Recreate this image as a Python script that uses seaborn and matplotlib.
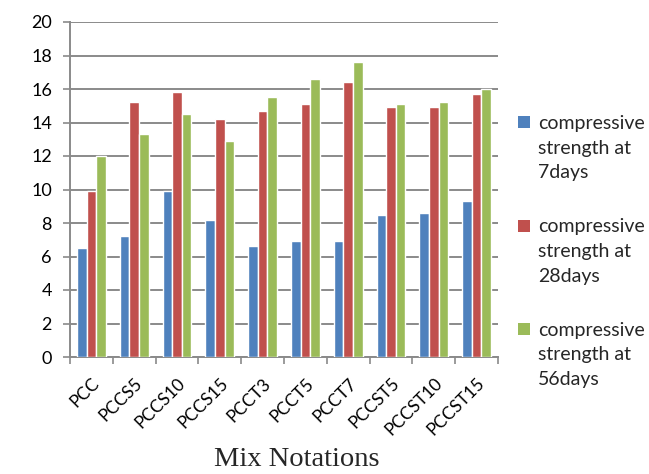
import matplotlib
matplotlib.use("Agg")
import matplotlib.pyplot as plt
import seaborn as sns
import pandas as pd
import numpy as np
from matplotlib.ticker import FixedLocator
from matplotlib.legend_handler import HandlerPatch
from matplotlib.patches import Rectangle

mixes = ["PCC", "PCCS5", "PCCS10", "PCCS15", "PCCT3", "PCCT5", "PCCT7",
         "PCCST5", "PCCST10", "PCCST15"]
strength_7d = [6.5, 7.2, 9.9, 8.15, 6.6, 6.9, 6.9, 8.5, 8.6, 9.3]
strength_28d = [9.9, 15.2, 15.8, 14.2, 14.7, 15.1, 16.4, 14.9, 14.9, 15.7]
strength_56d = [12.0, 13.3, 14.5, 12.9, 15.5, 16.6, 17.6, 15.1, 15.2, 16.0]
series_names = ["compressive\nstrength at\n7days",
                "compressive\nstrength at\n28days",
                "compressive\nstrength at\n56days"]
y_ticks = [0, 2, 4, 6, 8, 10, 12, 14, 16, 18, 20]

df = pd.DataFrame({
    "mix": mixes * 3,
    "value": strength_7d + strength_28d + strength_56d,
    "series": [series_names[0]] * len(mixes) + [series_names[1]] * len(mixes)
              + [series_names[2]] * len(mixes),
})

sns.set_theme(style="white")
plt.rcParams["font.family"] = ["Lato", "DejaVu Sans"]

LEG_FS = 14
LEG_LS = 1.55


class TopSquare(HandlerPatch):
    """Legend key drawn level with the first line of a multi-line label."""

    def create_artists(self, legend, orig_handle, xdescent, ydescent,
                       width, height, fontsize, trans):
        size = 0.62 * fontsize
        shift = LEG_LS * 0.864 * fontsize
        p = Rectangle((-xdescent, -ydescent + shift + (height - size) / 2),
                      size, size, facecolor=orig_handle.get_facecolor(),
                      edgecolor="none", transform=trans)
        return [p]


fig = plt.figure(figsize=(6.49, 4.74), dpi=100)
ax = fig.add_axes([70 / 649, 1 - 357 / 474, 428 / 649, 335 / 474])

palette = ["#4F81BD", "#C0504D", "#9BBB59"]
sns.barplot(data=df, x="mix", y="value", hue="series", palette=palette,
            width=0.67, saturation=1, ax=ax, legend=True, zorder=3)

ax.set_xlim(-0.5, len(mixes) - 0.5)
ax.set_ylim(0, 20)
ax.set_yticks(y_ticks)
ax.yaxis.grid(True, color="#8a8a8a", linewidth=1.4, zorder=0)
ax.set_axisbelow(True)

for s in ["top", "right"]:
    ax.spines[s].set_visible(False)
for s in ["left", "bottom"]:
    ax.spines[s].set_color("#8a8a8a")
    ax.spines[s].set_linewidth(1.4)

ax.tick_params(axis="y", which="major", left=True, length=5, width=1.2,
               color="#8a8a8a", labelsize=13, pad=8, labelcolor="#000000")
ax.tick_params(axis="x", which="major", bottom=False, labelsize=12.5,
               pad=7, labelcolor="#000000")
ax.xaxis.set_minor_locator(FixedLocator(np.arange(-0.5, len(mixes), 1.0)))
ax.tick_params(axis="x", which="minor", bottom=True, length=5, width=1.2,
               color="#8a8a8a")
for lab in ax.get_xticklabels():
    lab.set_rotation(45)
    lab.set_ha("right")
    lab.set_rotation_mode("anchor")

ax.set_xlabel("")
ax.set_ylabel("")
fig.text(297 / 649, 1 - 460 / 474, "Mix Notations", ha="center", va="center",
         fontsize=20.5, family=["Liberation Serif", "DejaVu Serif"])

handles, labels = ax.get_legend_handles_labels()
leg = ax.legend(handles, labels, loc="upper left",
                bbox_to_anchor=(518 / 649, 1 - 115 / 474),
                bbox_transform=fig.transFigure,
                frameon=False, fontsize=LEG_FS, handlelength=0.62,
                handleheight=0.62, handletextpad=0.4, labelspacing=1.9,
                borderaxespad=0, borderpad=0,
                handler_map={Rectangle: TopSquare()})
for t in leg.get_texts():
    t.set_linespacing(LEG_LS)

fig.savefig("out.png", dpi=100)
